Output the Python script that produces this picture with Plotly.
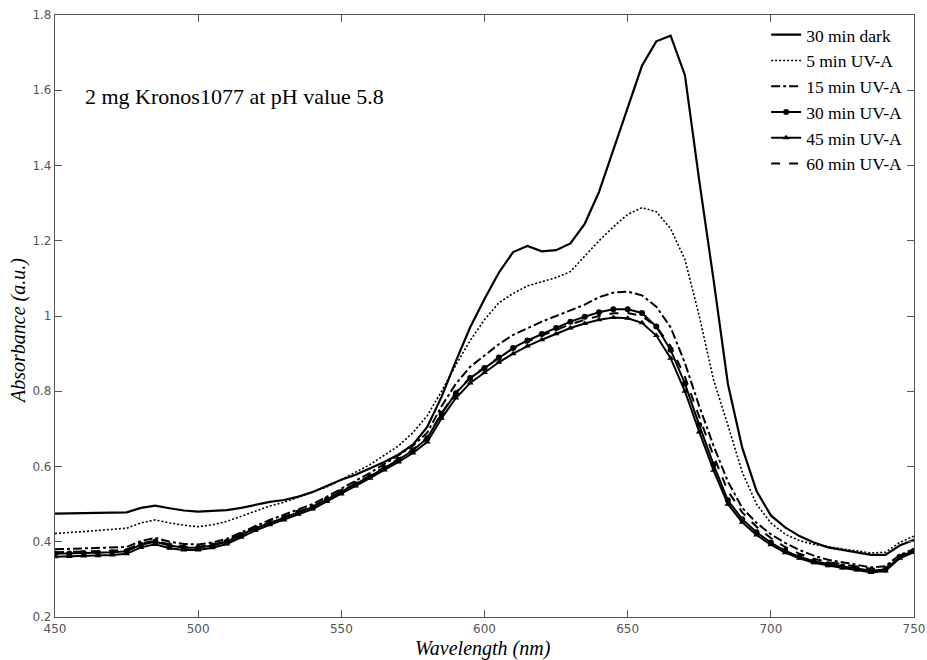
import plotly.graph_objects as go

wavelength = list(range(450, 751, 5))

dark_30 = [0.475, 0.476, 0.476, 0.477, 0.477, 0.478, 0.490, 0.496, 0.489, 0.483,
           0.480, 0.481, 0.484, 0.490, 0.499, 0.506, 0.511, 0.520, 0.532, 0.548,
           0.565, 0.578, 0.595, 0.612, 0.632, 0.658, 0.705, 0.785, 0.880, 0.970,
           1.045, 1.115, 1.170, 1.186, 1.172, 1.175, 1.193, 1.245, 1.330, 1.440,
           1.555, 1.665, 1.730, 1.745, 1.640, 1.360, 1.096, 0.820, 0.650, 0.535,
           0.470, 0.438, 0.415, 0.398, 0.385, 0.378, 0.372, 0.365, 0.365, 0.390,
           0.405]

uv_5 = [0.422, 0.424, 0.427, 0.430, 0.433, 0.436, 0.450, 0.458, 0.450, 0.444,
        0.440, 0.445, 0.454, 0.468, 0.482, 0.495, 0.505, 0.518, 0.531, 0.546,
        0.565, 0.585, 0.605, 0.630, 0.655, 0.690, 0.735, 0.800, 0.870, 0.935,
        0.990, 1.035, 1.060, 1.080, 1.092, 1.102, 1.118, 1.160, 1.200, 1.237,
        1.270, 1.288, 1.277, 1.232, 1.150, 1.000, 0.830, 0.710, 0.585, 0.500,
        0.450, 0.420, 0.403, 0.393, 0.386, 0.381, 0.376, 0.370, 0.372, 0.398,
        0.415]

uv_15 = [0.380, 0.381, 0.382, 0.383, 0.384, 0.386, 0.402, 0.410, 0.400, 0.394,
         0.393, 0.398, 0.408, 0.425, 0.443, 0.458, 0.472, 0.487, 0.500, 0.520,
         0.540, 0.562, 0.583, 0.606, 0.630, 0.655, 0.690, 0.760, 0.820, 0.865,
         0.895, 0.925, 0.950, 0.968, 0.985, 1.000, 1.015, 1.030, 1.050, 1.062,
         1.065, 1.055, 1.025, 0.970, 0.875, 0.760, 0.655, 0.560, 0.490, 0.450,
         0.420, 0.397, 0.378, 0.363, 0.352, 0.345, 0.338, 0.332, 0.335, 0.365,
         0.380]

uv_30 = [0.368, 0.369, 0.370, 0.371, 0.372, 0.375, 0.392, 0.400, 0.390, 0.384,
         0.384, 0.390, 0.400, 0.418, 0.436, 0.450, 0.463, 0.478, 0.492, 0.512,
         0.532, 0.553, 0.574, 0.596, 0.618, 0.643, 0.675, 0.740, 0.795, 0.835,
         0.862, 0.890, 0.915, 0.935, 0.952, 0.968, 0.985, 0.998, 1.010, 1.018,
         1.018, 1.008, 0.972, 0.910, 0.820, 0.710, 0.605, 0.510, 0.460, 0.425,
         0.398, 0.376, 0.360, 0.348, 0.340, 0.334, 0.329, 0.323, 0.326, 0.360,
         0.376]

uv_45 = [0.360, 0.361, 0.362, 0.363, 0.365, 0.368, 0.385, 0.393, 0.383, 0.378,
         0.378, 0.384, 0.394, 0.412, 0.430, 0.445, 0.458, 0.473, 0.487, 0.507,
         0.527, 0.548, 0.569, 0.591, 0.612, 0.636, 0.665, 0.728, 0.782, 0.822,
         0.850, 0.877, 0.900, 0.920, 0.937, 0.953, 0.968, 0.980, 0.990, 0.996,
         0.994, 0.982, 0.948, 0.888, 0.800, 0.692, 0.590, 0.500, 0.452, 0.418,
         0.392, 0.371, 0.356, 0.344, 0.336, 0.330, 0.325, 0.318, 0.322, 0.356,
         0.372]

uv_60 = [0.372, 0.373, 0.374, 0.375, 0.376, 0.379, 0.395, 0.403, 0.393, 0.387,
         0.387, 0.392, 0.402, 0.420, 0.438, 0.452, 0.466, 0.480, 0.494, 0.514,
         0.534, 0.555, 0.576, 0.598, 0.620, 0.645, 0.677, 0.742, 0.797, 0.837,
         0.864, 0.890, 0.913, 0.932, 0.948, 0.963, 0.978, 0.990, 1.000, 1.007,
         1.008, 1.000, 0.972, 0.920, 0.838, 0.732, 0.628, 0.535, 0.478, 0.440,
         0.410, 0.386, 0.368, 0.355, 0.346, 0.340, 0.334, 0.328, 0.330, 0.362,
         0.378]

series_names = ["30 min dark", "5 min UV-A", "15 min UV-A", "30 min UV-A", "45 min UV-A", "60 min UV-A"]
x_ticks = [450, 500, 550, 600, 650, 700, 750]
y_ticks = [0.2, 0.4, 0.6, 0.8, 1.0, 1.2, 1.4, 1.6, 1.8]
y_tick_text = ["0.2", "0.4", "0.6", "0.8", "1", "1.2", "1.4", "1.6", "1.8"]

SERIF = "'Liberation Serif', 'Times New Roman', 'DejaVu Serif', serif"

fig = go.Figure()
fig.add_trace(go.Scatter(x=wavelength, y=dark_30, name=series_names[0], mode="lines",
                         line=dict(color="black", width=2.2)))
fig.add_trace(go.Scatter(x=wavelength, y=uv_5, name=series_names[1], mode="lines",
                         line=dict(color="black", width=1.6, dash="2px,2px")))
fig.add_trace(go.Scatter(x=wavelength, y=uv_15, name=series_names[2], mode="lines",
                         line=dict(color="black", width=2, dash="dashdot")))
fig.add_trace(go.Scatter(x=wavelength, y=uv_30, name=series_names[3], mode="lines+markers",
                         line=dict(color="black", width=2),
                         marker=dict(symbol="circle", size=6, color="black")))
fig.add_trace(go.Scatter(x=wavelength, y=uv_45, name=series_names[4], mode="lines+markers",
                         line=dict(color="black", width=2),
                         marker=dict(symbol="triangle-up", size=6, color="black")))
fig.add_trace(go.Scatter(x=wavelength, y=uv_60, name=series_names[5], mode="lines",
                         line=dict(color="black", width=2, dash="dash")))

axis_common = dict(showline=True, mirror="ticks", linecolor="#555", linewidth=1.2,
                   ticks="inside", ticklen=7, tickcolor="#555", showgrid=False, zeroline=False,
                   automargin=False,
                   tickfont=dict(family="DejaVu Sans", size=12, color="#555"))

fig.update_xaxes(range=[450, 750], tickvals=x_ticks, **axis_common)
fig.update_yaxes(range=[0.2, 1.8], tickvals=y_ticks, ticktext=y_tick_text, **axis_common)

fig.add_annotation(text="2 mg Kronos1077 at pH value 5.8", xref="paper", yref="paper",
                   x=0.0326, y=0.864, xanchor="left", yanchor="middle", showarrow=False,
                   font=dict(family=SERIF, size=22, color="black"))
fig.add_annotation(text="Wavelength (nm)", xref="paper", yref="paper",
                   x=0.498, y=-0.053, xanchor="center", yanchor="middle", showarrow=False,
                   font=dict(family=SERIF, size=20, color="black", style="italic"))
fig.add_annotation(text="Absorbance (a.u.)", xref="paper", yref="paper", textangle=-90,
                   x=-0.0431, y=0.475, xanchor="center", yanchor="middle", showarrow=False,
                   font=dict(family=SERIF, size=20, color="black", style="italic"))

fig.update_layout(
    width=927, height=660,
    margin=dict(l=55, r=13, t=15, b=43, autoexpand=False),
    paper_bgcolor="white", plot_bgcolor="white",
    legend=dict(x=0.992, y=0.997, xanchor="right", yanchor="top", bgcolor="rgba(0,0,0,0)",
                font=dict(family=SERIF, size=17.5, color="black"),
                tracegroupgap=0, itemwidth=30),
)

fig.write_html("out.html", config={"displayModeBar": False},
               post_script="document.body.style.margin='0';document.body.style.padding='0';")
